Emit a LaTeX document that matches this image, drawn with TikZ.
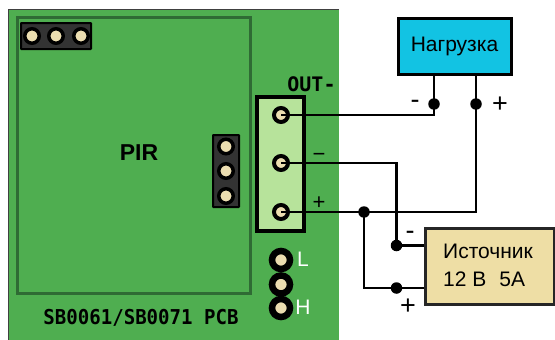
\documentclass[tikz,border=0pt]{standalone}
\usepackage{fontspec}
\setmainfont{Liberation Sans}
\newfontfamily\monob{DejaVu Sans Mono}
\definecolor{pcb}{HTML}{4FAE50}
\definecolor{pcbdark}{HTML}{2F6B34}
\definecolor{cream}{HTML}{EBDDB0}
\definecolor{term}{HTML}{B7E39B}
\definecolor{loadc}{HTML}{12C3E3}
\definecolor{srcc}{HTML}{EEDEA5}
\definecolor{hdr}{HTML}{333333}
\tikzset{
  x=1pt,y=-1pt,
  pad/.style={circle,draw=black,fill=cream,line width=#1,inner sep=0pt},
  hpad/.style={pad=3.5pt,minimum size=14.5pt},
  screw/.style={pad=4pt,minimum size=14pt},
  lpad/.style={pad=6.5pt,minimum size=18pt},
  jn/.style={circle,fill=black,inner sep=0pt,minimum size=11.5pt},
  header/.style={draw=black,fill=hdr,line width=2pt,rounded corners=0.5pt,inner sep=0pt},
  wire/.style={line width=2.6pt,black},
  boxc/.style={draw=black,line width=3pt,inner sep=0pt},
  sign/.style={font=\fontsize{27}{27}\selectfont,inner sep=0pt},
  smallsign/.style={font=\fontsize{22}{22}\selectfont,inner sep=0pt},
}
\begin{document}
\begin{tikzpicture}
\useasboundingbox (0,0) rectangle (555,340);
% board
\path[fill=pcb] (8,9) rectangle (338.5,340);
\draw[line width=1pt,black!75] (8,340) -- (8,9) -- (338.5,9);
\draw[pcbdark,line width=3pt] (17,17.5) rectangle (250,293);
% headers
\node[header,minimum width=70pt,minimum height=26pt] (h1) at (56,36) {};
\node[hpad] (h1a) at (32,36) {};
\node[hpad] (h1b) at (56,36) {};
\node[hpad] (h1c) at (81,36) {};
\node[header,minimum width=26pt,minimum height=72pt] (h2) at (226,171) {};
\node[hpad] (h2a) at (226,146.5) {};
\node[hpad] (h2b) at (226,171) {};
\node[hpad] (h2c) at (226,196) {};
% terminal block
\node[draw=black,fill=term,line width=4pt,minimum width=47pt,minimum height=134pt,inner sep=0pt] (tb) at (280.5,164) {};
% L/H pads
\node[lpad] (p1) at (281,260) {};
\node[lpad] (p2) at (281,284.5) {};
\node[lpad] (p3) at (281,308) {};
% boxes
\node[boxc,fill=loadc,minimum width=113pt,minimum height=56pt] (load) at (454.5,46.5) {\fontsize{21}{21}\selectfont Нагрузка};
\node[boxc,draw=black!85,fill=srcc,minimum width=129pt,minimum height=76pt,anchor=north west] (src) at (424,227) {};
\node[inner sep=0pt,anchor=base west,font=\fontsize{21}{21}\selectfont] (srct1) at (443,258) {Источник};
\node[inner sep=0pt,anchor=base west,font=\fontsize{21}{21}\selectfont] (srct2) at (443,286.5) {12 В\hspace{0.62em}5А};
% screws
\node[screw] (s1) at (281,115) {};
\node[screw] (s2) at (281,163) {};
\node[screw] (s3) at (281,212) {};
% junctions
\node[jn] (j1) at (434,104) {};
\node[jn] (j2) at (476,104) {};
\node[jn] (j3) at (364,212) {};
\node[jn] (j4) at (396.5,245.5) {};
\node[jn] (j5) at (396.5,288) {};
% wires
\draw[wire] (s1.center) -- (j1.center |- s1.center) -- (j1.center) -- (j1.center |- load.south);
\draw[wire] (j2.center |- load.south) -- (j2.center);
\draw[wire] (j2.center) -- (j2.center |- s3.center) -- (s3.center);
\draw[wire] (s2.center) -- (j4.center |- s2.center) -- (j4.center);
\draw[wire] (j4.center) -- (src.west |- j4.center);
\draw[wire] (j3.center) -- (j3.center |- j5.center) -- (j5.center) -- (src.west |- j5.center);
% labels
\node[font=\bfseries\fontsize{23}{23}\selectfont,inner sep=0pt] (pir) at (139,153) {PIR};
\node[font=\monob\bfseries\fontsize{20.5}{20.5}\selectfont,inner sep=0pt,xscale=0.93] (pcbl) at (141,317.5) {SB0061/SB0071 PCB};
\node[font=\monob\bfseries\fontsize{20}{20}\selectfont,inner sep=0pt] (out) at (311.5,84) {OUT-};
\node[font=\fontsize{21}{21}\selectfont,inner sep=0pt,white] (ll) at (303,259.5) {L};
\node[font=\fontsize{21}{21}\selectfont,inner sep=0pt,white] (lh) at (303,307) {H};
\node[sign] (m1) at (415,104) {-};
\node[sign] (pl1) at (500,104.5) {+};
\node[smallsign] (m2) at (319,157) {−};
\node[smallsign] (pl2) at (319,203) {+};
\node[sign] (m3) at (410,235) {-};
\node[sign] (pl3) at (408,307) {+};
\end{tikzpicture}
\end{document}
